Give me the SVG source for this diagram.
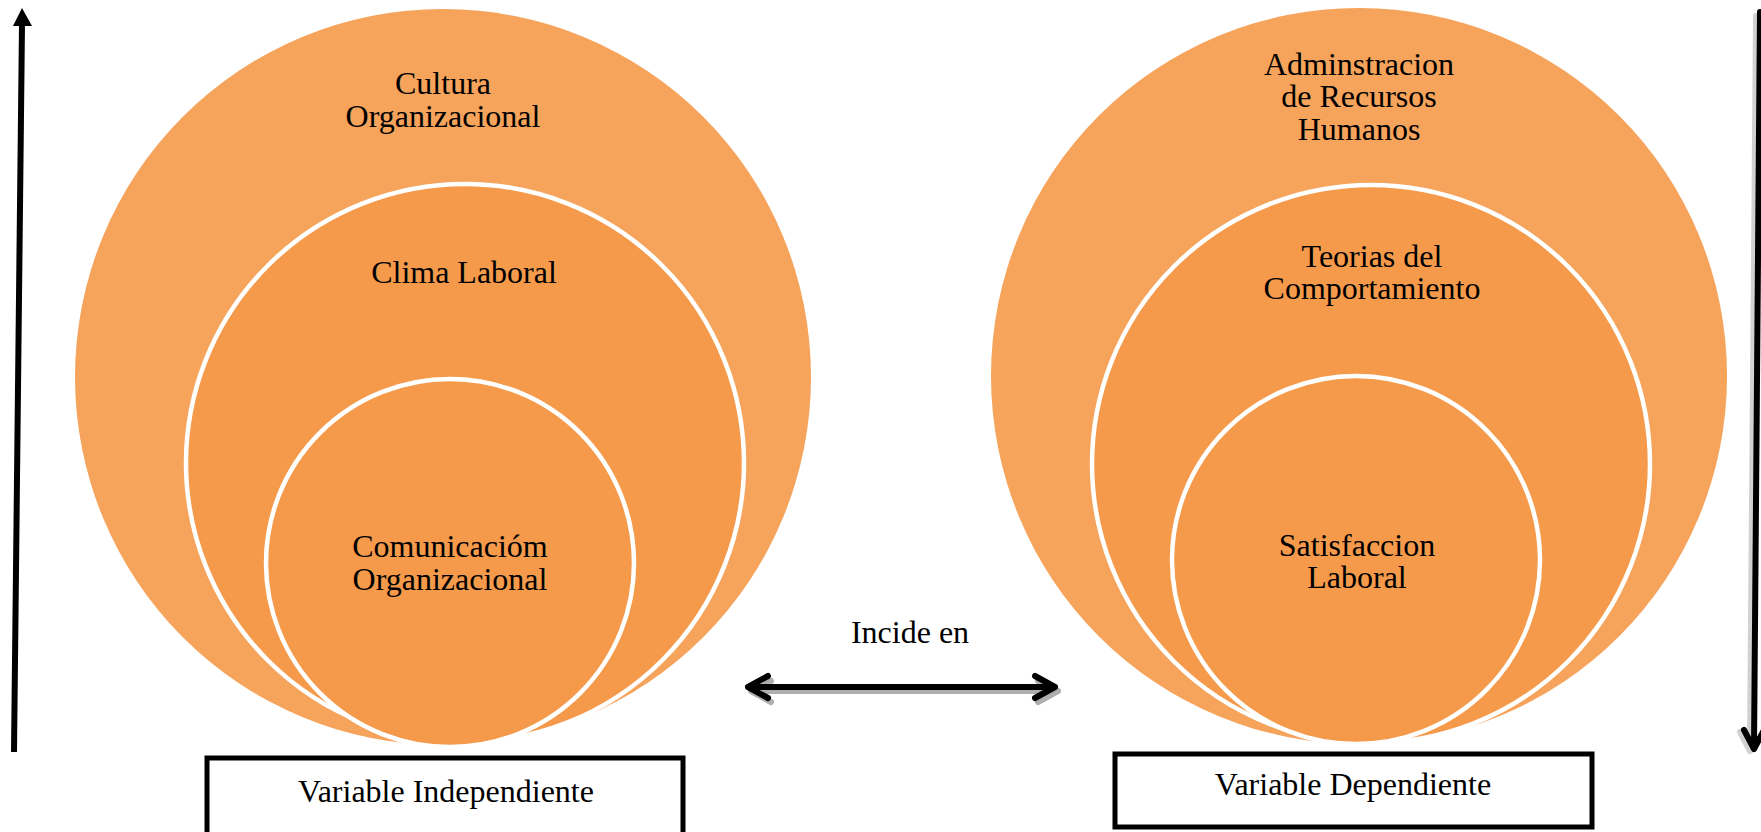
<svg xmlns="http://www.w3.org/2000/svg" width="1761" height="832" viewBox="0 0 1761 832">
<style>
.outer{fill:#F6A35B;}
.ring{fill:#F59A4B;stroke:#FFFFFF;stroke-width:4.5;}
.t{font-family:"Liberation Serif","Times New Roman",serif;font-size:32px;fill:#000;text-anchor:middle;}
.box{fill:#FFFFFF;stroke:#000;stroke-width:5;}
.ln{fill:none;stroke:#000;stroke-width:6;stroke-linecap:round;stroke-linejoin:round;}
.sh{fill:none;stroke:#9A9A9A;stroke-width:6;stroke-linecap:round;stroke-linejoin:round;}
</style>
<rect width="1761" height="832" fill="#FFFFFF"/>

<g id="left-group">
  <g id="cultura-organizacional">
    <circle class="outer" cx="443" cy="377" r="368"/>
    <text class="t" x="443" y="94">Cultura</text>
    <text class="t" x="443" y="127">Organizacional</text>
  </g>
  <g id="clima-laboral">
    <circle class="ring" cx="465" cy="463" r="279"/>
    <text class="t" x="464" y="283">Clima Laboral</text>
  </g>
  <g id="comunicacion-organizacional">
    <circle class="ring" cx="450" cy="563" r="184"/>
    <text class="t" x="450" y="557">Comunicacióm</text>
    <text class="t" x="450" y="590">Organizacional</text>
  </g>
</g>

<g id="right-group">
  <g id="administracion-rrhh">
    <circle class="outer" cx="1359" cy="376" r="368"/>
    <text class="t" x="1359" y="75">Adminstracion</text>
    <text class="t" x="1359" y="107">de Recursos</text>
    <text class="t" x="1359" y="140">Humanos</text>
  </g>
  <g id="teorias-comportamiento">
    <circle class="ring" cx="1371" cy="464" r="279"/>
    <text class="t" x="1372" y="267">Teorias del</text>
    <text class="t" x="1372" y="299">Comportamiento</text>
  </g>
  <g id="satisfaccion-laboral">
    <circle class="ring" cx="1356" cy="560" r="184"/>
    <text class="t" x="1357" y="556">Satisfaccion</text>
    <text class="t" x="1357" y="588">Laboral</text>
  </g>
</g>

<g id="variable-independiente">
  <rect class="box" x="207" y="758" width="476" height="80"/>
  <text class="t" x="446" y="802">Variable Independiente</text>
</g>

<g id="variable-dependiente">
  <rect class="box" x="1115" y="754" width="477" height="73"/>
  <text class="t" x="1353" y="795">Variable Dependiente</text>
</g>

<g id="incide-label">
  <text class="t" x="910" y="643">Incide en</text>
</g>

<g id="connectors">
  <g id="double-arrow">
    <path class="sh" d="M751 691 H1058 M771 681 L751 691 L771 702 M1038 681 L1058 691 L1038 702" opacity="0.8"/>
    <path class="ln" d="M748 687 H1055 M768 676 L748 687 L768 698 M1035 676 L1055 687 L1035 698"/>
  </g>
  <g id="up-arrow">
    <line x1="14" y1="752" x2="22" y2="24" stroke="#000" stroke-width="6"/>
    <polygon points="22,8 13,26 32,26" fill="#000"/>
  </g>
  <g id="down-arrow">
    <path class="sh" d="M1756 16 L1750 748 M1740 732 L1750 751" stroke-width="4" opacity="0.45"/>
    <path class="ln" d="M1760 12 L1754 748 M1744 730 L1754 749 L1764 730" stroke-width="5"/>
  </g>
</g>
</svg>
